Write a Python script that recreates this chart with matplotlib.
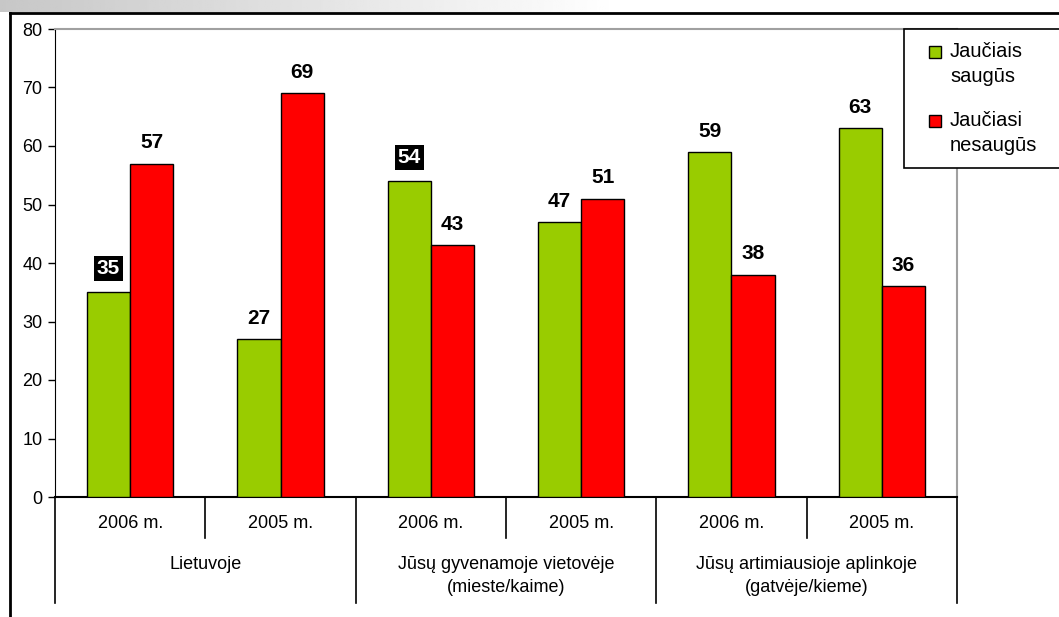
import numpy as np
import matplotlib
matplotlib.use("Agg")
import matplotlib.pyplot as plt
from matplotlib.lines import Line2D
from matplotlib.patches import Rectangle

plt.rcParams['font.family'] = ['Liberation Sans', 'DejaVu Sans']

# data
years = ["2006 m.", "2005 m.", "2006 m.", "2005 m.", "2006 m.", "2005 m."]
groups = ["Lietuvoje", "Jūsų gyvenamoje vietovėje\n(mieste/kaime)",
          "Jūsų artimiausioje aplinkoje\n(gatvėje/kieme)"]
saugus = [35, 27, 54, 47, 59, 63]
nesaugus = [57, 69, 43, 51, 38, 36]
highlight = [0, 2]  # labels drawn on black background
series_names = ["Jaučiais\nsaugūs", "Jaučiasi\nnesaugūs"]

W, H = 1059, 617
fig = plt.figure(figsize=(W / 100, H / 100), dpi=100)
fig.patch.set_facecolor("white")


def fx(px):
    return px / W


def fy(py):
    return 1 - py / H


def fline(x0, y0, x1, y1, color="black", lw=1.0):
    fig.add_artist(Line2D([fx(x0), fx(x1)], [fy(y0), fy(y1)], color=color, lw=lw,
                          transform=fig.transFigure))


# faded background strip at the top
bg = fig.add_axes([0, fy(12), fx(620), 12 / H])
grad = np.linspace(0.78, 1.0, 256).reshape(1, -1)
bg.imshow(grad, aspect="auto", cmap="gray", vmin=0, vmax=1)
bg.axis("off")

# outer frame
fline(10, 13, W, 13, lw=2)
fline(10, 13, 10, H, lw=2)

L, R, T, B = 55, 957, 29, 497
ax = fig.add_axes([fx(L), fy(B), fx(R) - fx(L), fy(T) - fy(B)])
x = np.arange(len(years))
w = 0.287
green, red = "#99CC00", "#FF0000"
ax.bar(x - w / 2, saugus, w, color=green, edgecolor="black", lw=1, zorder=3)
ax.bar(x + w / 2, nesaugus, w, color=red, edgecolor="black", lw=1, zorder=3)

for i in range(len(years)):
    if i in highlight:
        ax.annotate(str(saugus[i]), (x[i] - w / 2, saugus[i]), xytext=(0, 17),
                    textcoords="offset points", ha="center", va="center",
                    fontsize=15, fontweight="bold", color="white",
                    bbox=dict(boxstyle="square,pad=0.15", fc="black", ec="none"))
    else:
        ax.annotate(str(saugus[i]), (x[i] - w / 2, saugus[i]), xytext=(0, 15),
                    textcoords="offset points", ha="center", va="center",
                    fontsize=15, fontweight="bold")
    ax.annotate(str(nesaugus[i]), (x[i] + w / 2, nesaugus[i]), xytext=(0, 15),
                textcoords="offset points", ha="center", va="center",
                fontsize=15, fontweight="bold")

ax.set_xlim(-0.5, 5.5)
ax.set_ylim(0, 80)
ax.set_yticks(range(0, 81, 10))
ax.tick_params(axis="y", direction="out", length=5, width=1, labelsize=13, pad=4)
ax.set_xticks([])
ax.spines["left"].set_color("black")
ax.spines["bottom"].set_color("black")
ax.spines["bottom"].set_linewidth(1.5)
ax.spines["top"].set_color("#a0a0a0")
ax.spines["top"].set_linewidth(1.5)
ax.spines["right"].set_color("#a0a0a0")
ax.spines["right"].set_linewidth(1.5)

# category axis: dividers and labels
tr = ax.get_xaxis_transform()
for b in [-0.5, 1.5, 3.5, 5.5]:
    ax.plot([b, b], [0, -106 / (B - T)], transform=tr, color="black", lw=1.2, clip_on=False)
for b in [0.5, 2.5, 4.5]:
    ax.plot([b, b], [0, -41 / (B - T)], transform=tr, color="black", lw=1.2, clip_on=False)
for i, lab in enumerate(years):
    ax.text(x[i], -26 / (B - T), lab, transform=tr, ha="center", va="center", fontsize=13)
for j, g in enumerate(groups):
    ax.text(2 * j + 0.5, -59 / (B - T), g, transform=tr, ha="center", va="top",
            fontsize=13, linespacing=1.45)

# legend
fig.add_artist(Rectangle((fx(904), fy(168)), fx(W + 5) - fx(904), (168 - 29) / H,
                         transform=fig.transFigure, facecolor="white",
                         edgecolor="black", lw=1.2, zorder=5))
for k, (name, col) in enumerate(zip(series_names, [green, red])):
    cy = 52 + k * 69
    fig.add_artist(Rectangle((fx(929), fy(cy + 6)), 12 / W, 12 / H, transform=fig.transFigure,
                             facecolor=col, edgecolor="black", lw=1, zorder=6))
    fig.text(fx(950), fy(cy - 10), name, ha="left", va="top", fontsize=14.5,
             linespacing=1.4, zorder=6)

fig.savefig("out.png", dpi=100)
